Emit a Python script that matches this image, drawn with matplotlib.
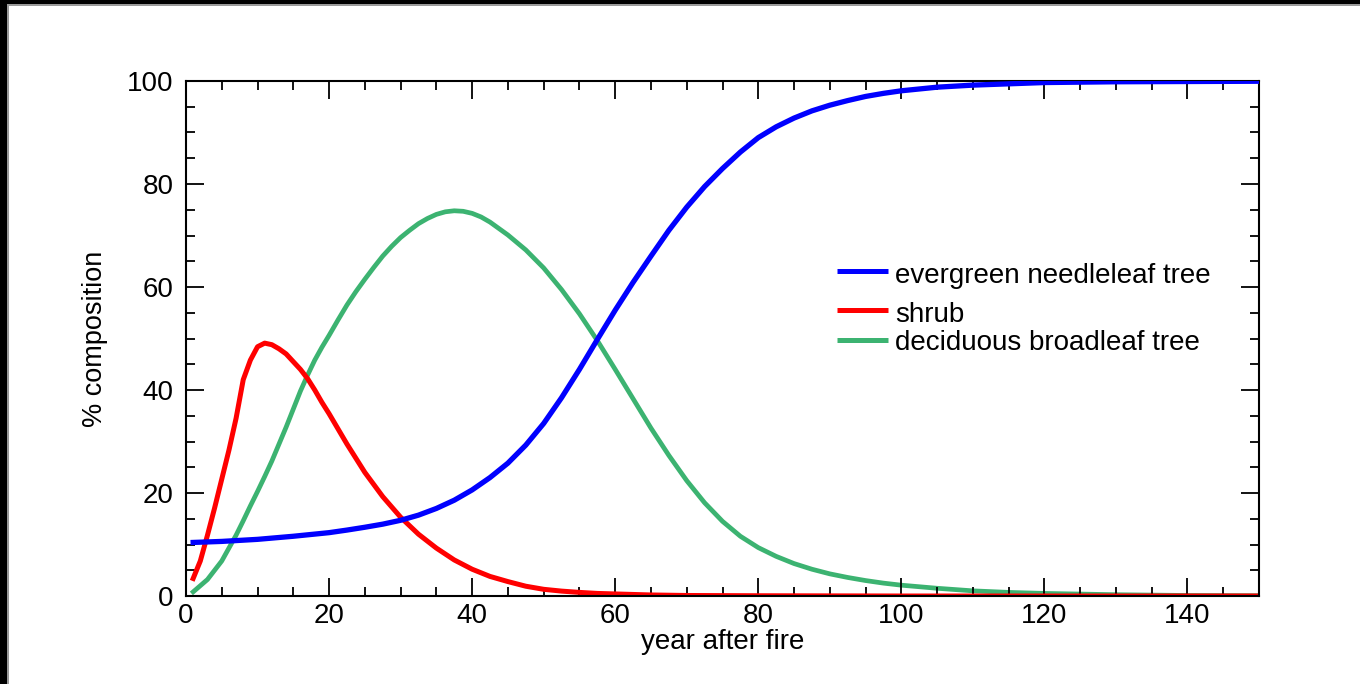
import numpy as np
import matplotlib
matplotlib.use("Agg")
import matplotlib.pyplot as plt
from matplotlib.lines import Line2D
from matplotlib.patches import Rectangle
from matplotlib.ticker import MultipleLocator

plt.rcParams['font.family'] = ['Liberation Sans', 'DejaVu Sans']

# values
years_needle = [1, 5, 10, 15, 20, 22.5, 25, 27.5, 30, 32.5, 35, 37.5, 40, 42.5,
                45, 47.5, 50, 52.5, 55, 57.5, 60, 62.5, 65, 67.5, 70, 72.5, 75,
                77.5, 80, 82.5, 85, 87.5, 90, 92.5, 95, 97.5, 100, 105, 110, 120,
                130, 140, 150]
needleleaf = [10.4, 10.6, 11.0, 11.6, 12.3, 12.8, 13.35, 13.95, 14.7, 15.7, 17.0,
              18.6, 20.6, 23.0, 25.8, 29.3, 33.5, 38.5, 44.0, 49.8, 55.5, 60.9,
              66.0, 71.0, 75.5, 79.5, 83.0, 86.2, 89.0, 91.1, 92.8, 94.2, 95.3,
              96.2, 97.0, 97.6, 98.1, 98.8, 99.2, 99.7, 99.85, 99.9, 99.95]

years_shrub = [1, 2, 3, 4, 5, 6, 7, 8, 9, 10, 11, 12, 13, 14, 15, 16, 17, 18, 19,
               20, 22.5, 25, 27.5, 30, 32.5, 35, 37.5, 40, 42.5, 45, 47.5, 50,
               52.5, 55, 57.5, 60, 65, 70, 80, 100, 150]
shrub = [3.4, 6.8, 11.8, 17.1, 22.7, 28.3, 34.5, 42.0, 45.8, 48.4, 49.1, 48.8,
         48.0, 47.0, 45.5, 44.0, 42.2, 40.0, 37.6, 35.4, 29.5, 24.0, 19.3, 15.3,
         12.0, 9.3, 7.0, 5.2, 3.8, 2.8, 1.9, 1.3, 0.95, 0.7, 0.5, 0.4, 0.2, 0.1,
         0.05, 0.0, 0.0]

years_broad = [1, 2, 3, 4, 5, 6, 7, 8, 9, 10, 11, 12, 13, 14, 15, 16, 17, 18, 19,
               20, 21.25, 22.5, 23.75, 25, 26.25, 27.5, 28.75, 30, 31.25, 32.5,
               33.75, 35, 36.25, 37.5, 38.75, 40, 41.25, 42.5, 45, 47.5, 50,
               52.5, 55, 57.5, 60, 62.5, 65, 67.5, 70, 72.5, 75, 77.5, 80, 82.5,
               85, 87.5, 90, 92.5, 95, 97.5, 100, 105, 110, 115, 120, 130, 140,
               150]
broadleaf = [0.8, 2.0, 3.2, 5.0, 6.8, 9.3, 11.8, 14.6, 17.5, 20.3, 23.2, 26.2,
             29.5, 32.8, 36.3, 39.8, 42.9, 45.8, 48.3, 50.6, 53.6, 56.5, 59.1,
             61.5, 63.8, 66.0, 67.9, 69.6, 71.0, 72.3, 73.3, 74.1, 74.6, 74.8,
             74.7, 74.3, 73.6, 72.6, 70.1, 67.2, 63.7, 59.5, 54.8, 49.6, 44.0,
             38.3, 32.6, 27.3, 22.4, 18.1, 14.5, 11.6, 9.4, 7.7, 6.3, 5.2, 4.3,
             3.6, 3.0, 2.5, 2.1, 1.5, 1.0, 0.7, 0.5, 0.25, 0.1, 0.05]

labels = ['evergreen needleleaf tree', 'shrub', 'deciduous broadleaf tree']
colors = ['#0000ff', '#ff0000', '#3cb371']

fig = plt.figure(figsize=(13.6, 6.84), dpi=100)
ax = fig.add_axes([186/1360, 1-596/684, 1073/1360, 515/684])

ax.plot(years_needle, needleleaf, color=colors[0], lw=3.8, zorder=3)
ax.plot(years_shrub, shrub, color=colors[1], lw=3.6, zorder=2)
ax.plot(years_broad, broadleaf, color=colors[2], lw=3.4, zorder=1)

ax.set_xlim(0, 150)
ax.set_ylim(0, 100)
ax.xaxis.set_major_locator(MultipleLocator(20))
ax.xaxis.set_minor_locator(MultipleLocator(5))
ax.yaxis.set_major_locator(MultipleLocator(20))
ax.yaxis.set_minor_locator(MultipleLocator(5))
ax.tick_params(which='both', direction='in', top=True, right=True, width=1.3,
               labelsize=20)
ax.tick_params(which='major', length=13)
ax.tick_params(which='minor', length=6.5)
ax.tick_params(axis='x', which='major', pad=5)
ax.tick_params(axis='y', which='major', pad=9)
for sp in ax.spines.values():
    sp.set_linewidth(1.5)

ax.set_xlabel('year after fire', fontsize=20, labelpad=0)
ax.set_ylabel('% composition', fontsize=19.5, labelpad=14)

# hand-placed legend (uneven spacing as in the original)
leg_y = [0.632, 0.555, 0.497]
leg_base = [0.607, 0.533, 0.478]
for lab, c, ly, lb in zip(labels, colors, leg_y, leg_base):
    ax.add_line(Line2D([0.6064, 0.6545], [ly, ly], color=c, lw=3.6,
                       transform=ax.transAxes, solid_capstyle='butt'))
    ax.text(0.6608, lb, lab, transform=ax.transAxes, fontsize=20,
            va='baseline', ha='left')

# dark window frame on top and left
W, H = 1360, 684
fig.add_artist(Rectangle((0, 0), 7/W, 1, transform=fig.transFigure,
                         color='black', lw=0))
fig.add_artist(Rectangle((7/W, 0), 2/W, 1, transform=fig.transFigure,
                         color='#9a9a9a', lw=0))
fig.add_artist(Rectangle((0, 1-4/H), 1, 4/H, transform=fig.transFigure,
                         color='black', lw=0))
fig.add_artist(Rectangle((7/W, 1-6/H), 1, 2/H, transform=fig.transFigure,
                         color='#9a9a9a', lw=0))

fig.savefig('out.png', dpi=100)
